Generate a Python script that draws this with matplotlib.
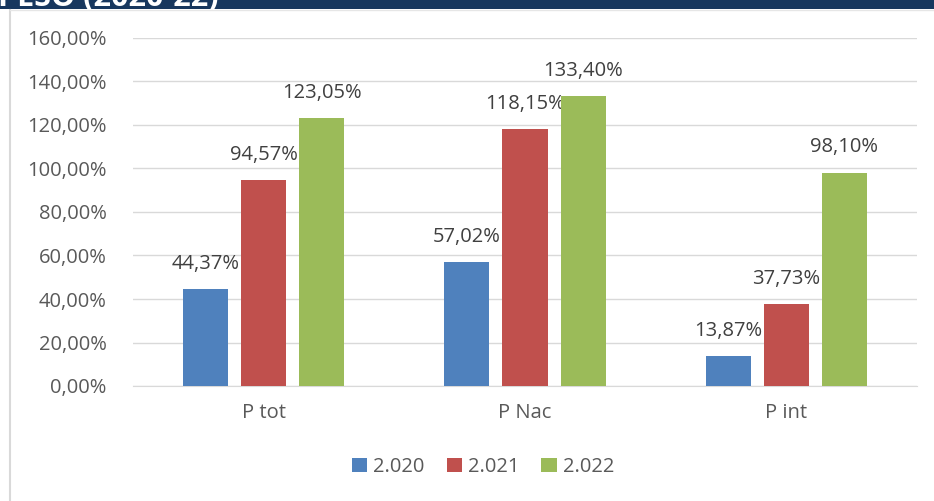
import matplotlib
matplotlib.use("Agg")
import matplotlib.pyplot as plt
from matplotlib.patches import Rectangle
from matplotlib.lines import Line2D
import numpy as np

categories = ["P tot", "P Nac", "P int"]
series_names = ["2.020", "2.021", "2.022"]
values_2020 = [44.37, 57.02, 13.87]
values_2021 = [94.57, 118.15, 37.73]
values_2022 = [123.05, 133.40, 98.10]
yticks = [0, 20, 40, 60, 80, 100, 120, 140, 160]
title_text = "PESO (2020-22)"

colors = ["#4F81BD", "#C0504D", "#9BBB59"]
plt.rcParams['font.family'] = ['Open Sans', 'DejaVu Sans']
FS = 14.5

W, H = 934, 501
fig = plt.figure(figsize=(W / 100, H / 100), dpi=100)
fig.patch.set_facecolor("white")

# Header banner (title runs off the top edge)
fig.patches.append(Rectangle((0, 1 - 9 / H), 1, 9 / H, transform=fig.transFigure,
                             facecolor="#17375E", edgecolor="none", zorder=0))
fig.text(-2 / W, 1 - 6 / H, title_text, color="white", fontsize=22,
         fontweight="bold", ha="left", va="baseline", zorder=1)
# Light frame around the chart box
fig.add_artist(Line2D([10 / W, 10 / W], [0, 1 - 10 / H], transform=fig.transFigure,
                      color="#D9D9D9", lw=1.5))
fig.add_artist(Line2D([10 / W, 1], [1 - 10 / H, 1 - 10 / H], transform=fig.transFigure,
                      color="#E6E6E6", lw=1))

ax = fig.add_axes([133 / W, 1 - 386 / H, (917 - 133) / W, (386 - 38) / H])
ax.set_facecolor("white")

x = np.arange(len(categories))
bar_w = 45 / 261.3
step = 58 / 261.3
all_series = [values_2020, values_2021, values_2022]
for i, (vals, name, c) in enumerate(zip(all_series, series_names, colors)):
    pos = x + (i - 1) * step
    bars = ax.bar(pos, vals, width=bar_w, color=c, label=name, zorder=3)
    for b, v in zip(bars, vals):
        ax.annotate(f"{v:.2f}%".replace(".", ","),
                    (b.get_x() + b.get_width() / 2, v),
                    xytext=(0, 11), textcoords="offset points",
                    ha="center", va="bottom", fontsize=FS, color="#404040")

ax.set_xlim(-0.5, len(categories) - 0.5)
ax.set_ylim(0, 160)
ax.set_yticks(yticks)
ax.set_yticklabels([f"{t:.2f}%".replace(".", ",") for t in yticks])
ax.set_xticks(x)
ax.set_xticklabels(categories)
ax.tick_params(axis="both", length=0, labelsize=FS, labelcolor="#595959")
ax.tick_params(axis="y", pad=19)
ax.tick_params(axis="x", pad=12)
ax.grid(axis="y", color="#D9D9D9", lw=1, zorder=0)
for s in ["top", "right", "left"]:
    ax.spines[s].set_visible(False)
ax.spines["bottom"].set_color("#D9D9D9")

leg = fig.legend(loc="center", bbox_to_anchor=(483 / W, 1 - 467 / H), ncol=3,
                 frameon=False, fontsize=FS, handlelength=0.75, handleheight=0.75,
                 handletextpad=0.3, columnspacing=1.1)
for t in leg.get_texts():
    t.set_color("#595959")

fig.savefig("out.png", dpi=100, facecolor="white")
